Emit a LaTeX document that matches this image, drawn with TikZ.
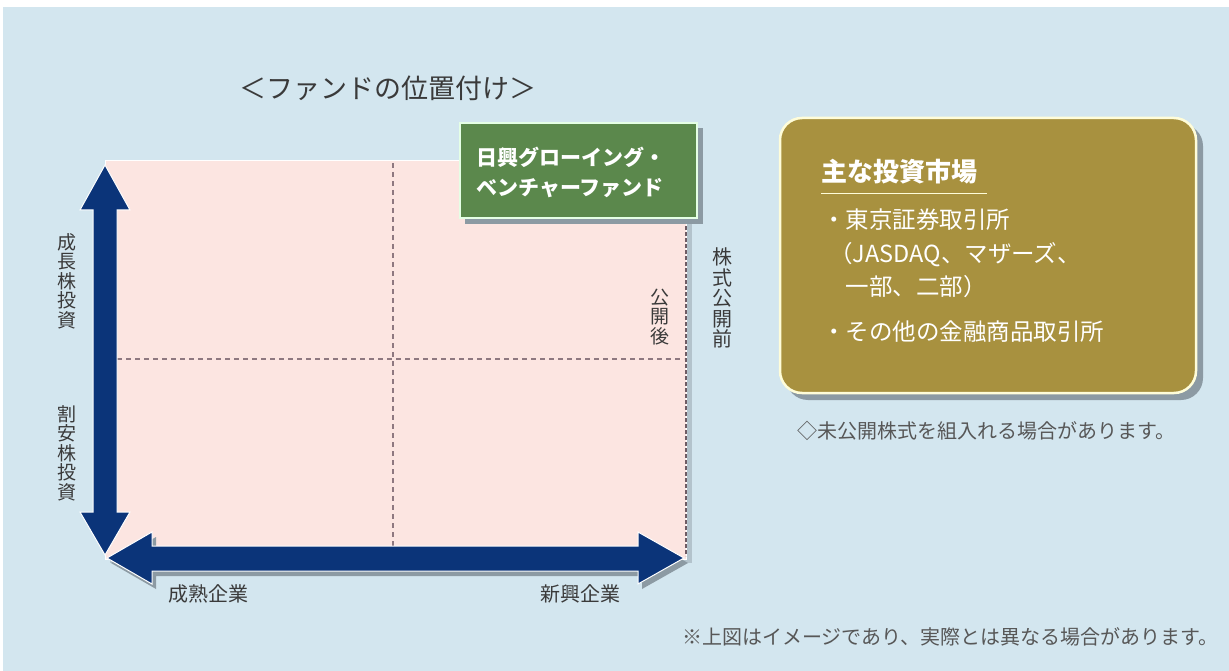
\documentclass[tikz,border=0pt]{standalone}
\usepackage{fontspec}
\setmainfont{Noto Sans CJK JP}
\definecolor{bgblue}{HTML}{D3E6EF}
\definecolor{pinkq}{HTML}{FCE5E1}
\definecolor{navy}{HTML}{0B3479}
\definecolor{fundgreen}{HTML}{5B884C}
\definecolor{gold}{HTML}{A8913F}
\definecolor{txtgray}{HTML}{3A3A3A}
\definecolor{dashc}{HTML}{8E7880}
\definecolor{edgec}{HTML}{6E5C64}
\definecolor{shadowc}{HTML}{8C9AA3}
\definecolor{shadowlt}{HTML}{B3C3CC}
\tikzset{
  vlabel/.style={font=\fontsize{19}{19.5}\selectfont, text=txtgray, align=center, inner sep=0pt},
  hlabel/.style={font=\fontsize{20}{22}\selectfont, text=txtgray, inner sep=0pt},
  note/.style={font=\fontsize{20}{22}\selectfont, text=txtgray!85, inner sep=0pt},
  arrowshape/.style={fill=navy, draw=white, line width=1pt},
}
\begin{document}
\begin{tikzpicture}[x=1pt,y=-1pt]
\useasboundingbox (0,0) rectangle (1229,671);
% background
\fill[white] (0,0) rectangle (1229,671);
\fill[bgblue] (3,7) rectangle (1229,671);
% title
\node[font=\fontsize{27}{30}\selectfont, text=txtgray, inner sep=0pt] (title) at (388,88) {＜ファンドの位置付け＞};
% pink quadrant area (with soft shadow)
\fill[shadowlt] (110,166) rectangle (692,563);
\path[fill=pinkq, draw=white, line width=1pt] (105,161) rectangle (686,559);
\draw[dashc, line width=1.4pt, dash pattern=on 5pt off 4pt] (393,163) -- (393,547);
\draw[dashc, line width=1.4pt, dash pattern=on 5pt off 4pt] (117,359) -- (684,359);
\draw[edgec, line width=2.2pt, dash pattern=on 4pt off 2pt] (686,220) -- (686,556);
% vertical arrow
\path[arrowshape] (105,165) -- (130,210) -- (117,210) -- (117,512) -- (130,512) -- (105,555)
  -- (80,512) -- (93,512) -- (93,210) -- (80,210) -- cycle;
% horizontal arrow (shadow, then arrow)
\fill[shadowc] (111,563) -- (156,537) -- (156,551) -- (642,551) -- (642,537) -- (688,563)
  -- (642,589) -- (642,576) -- (156,576) -- (156,589) -- cycle;
\path[arrowshape] (107,558) -- (152,532) -- (152,546) -- (638,546) -- (638,532) -- (684,558)
  -- (638,584) -- (638,571) -- (152,571) -- (152,584) -- cycle;
% axis labels
\node[vlabel] (growth) at (67,281) {成\\長\\株\\投\\資};
\node[vlabel] (value) at (67,453) {割\\安\\株\\投\\資};
\node[hlabel] (mature) at (208,594) {成熟企業};
\node[hlabel] (emerging) at (580,594) {新興企業};
\node[vlabel] (after) at (660,317) {公\\開\\後};
\node[vlabel, font=\fontsize{20}{20.5}\selectfont] (before) at (722,298) {株\\式\\公\\開\\前};
% fund box
\fill[shadowc] (465,128) rectangle (703,224);
\node[draw=white!90!green, line width=2pt, fill=fundgreen, minimum width=237pt, minimum height=95pt,
  inner sep=0pt] (fund) at (578.5,170.5) {};
\node[font=\bfseries\fontsize{21}{30}\selectfont, text=white, align=left, anchor=west, inner sep=0pt] (fundtxt)
  at (476,172) {日興グローイング・\\ベンチャーファンド};
% market box
\fill[shadowc, rounded corners=22pt] (786,124) rectangle (1203,400);
\node[draw=white!85!yellow, line width=2.5pt, fill=gold, rounded corners=22pt,
  minimum width=416pt, minimum height=275pt, inner sep=0pt] (market) at (988,255.5) {};
\node[font=\bfseries\fontsize{26}{28}\selectfont, text=white, anchor=west, inner sep=0pt] (mhead) at (821,172) {主な投資市場};
\draw[white!85!yellow, line width=1.2pt] (mhead.south west) ++(0,9) -- ++(166,0) coordinate (ulend);
\node[font=\fontsize{23.5}{33.5}\selectfont, text=white, anchor=north west, align=left, inner sep=0pt] (mlist)
  at (822,209) {・東京証券取引所\\\hspace{0.3em}（JASDAQ、マザーズ、\\\hspace{1em}一部、二部）};
\node[font=\fontsize{23.5}{30}\selectfont, text=white, anchor=west, inner sep=0pt] (mother) at (822,332) {・その他の金融商品取引所};
% notes
\node[note, anchor=west] (unlisted) at (797,431) {◇未公開株式を組入れる場合があります。};
\node[note, anchor=west] (disclaimer) at (682,637) {※上図はイメージであり、実際とは異なる場合があります。};
\end{tikzpicture}
\end{document}
